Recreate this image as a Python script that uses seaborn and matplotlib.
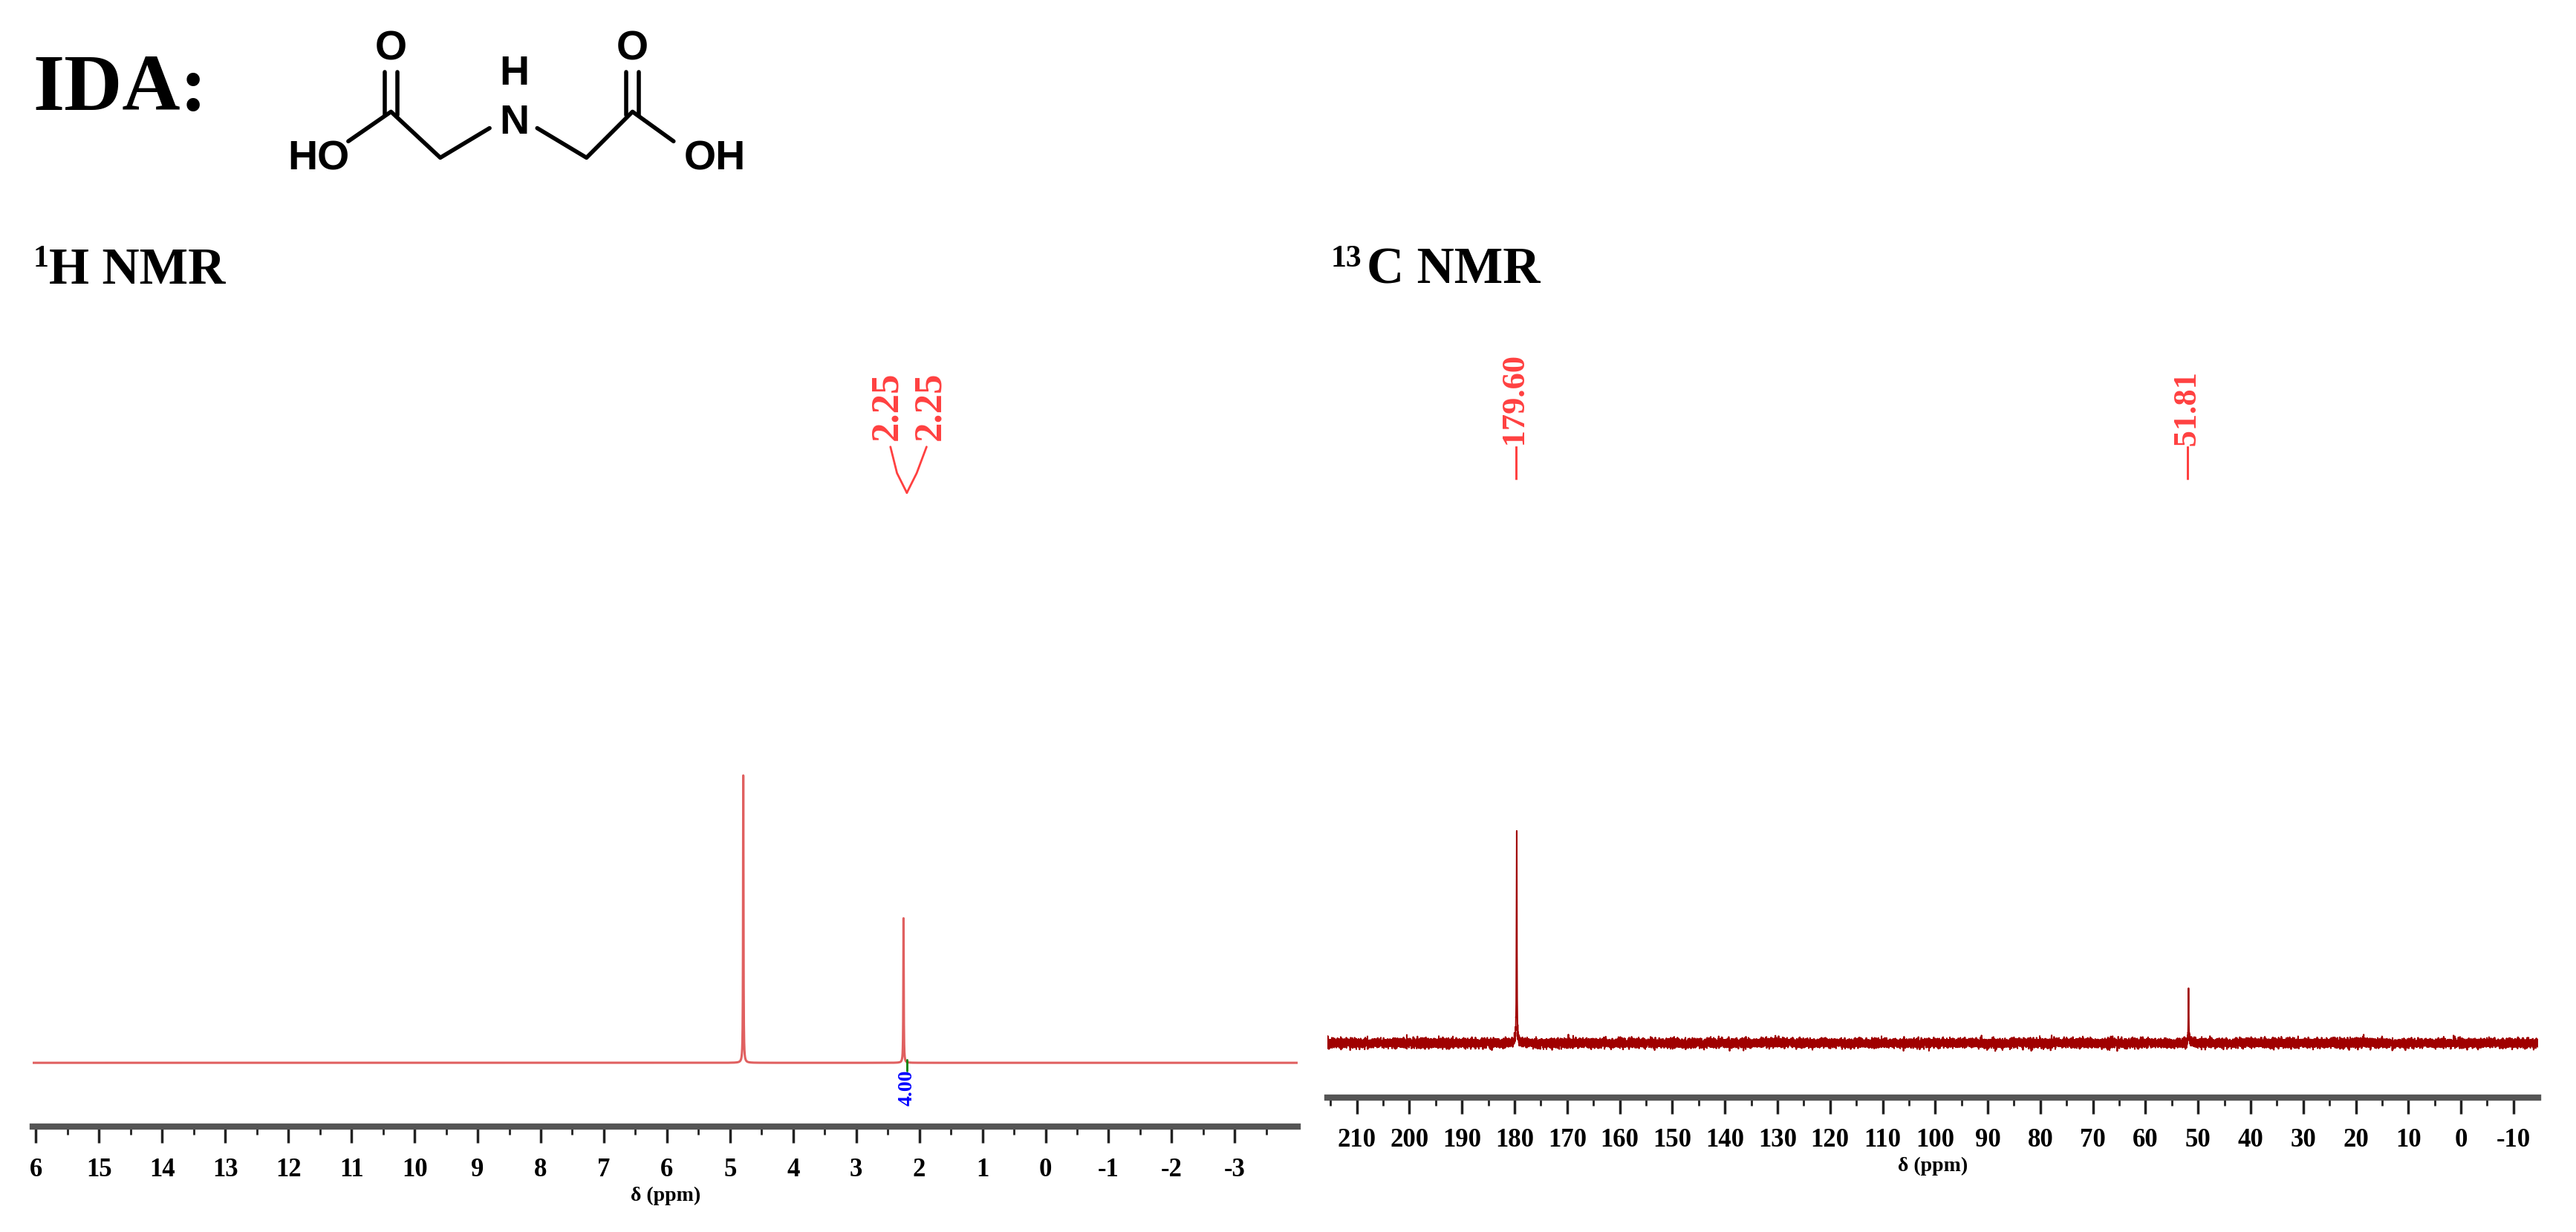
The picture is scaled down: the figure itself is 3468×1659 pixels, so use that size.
import numpy as np
import pandas as pd
import matplotlib
matplotlib.use("Agg")
import matplotlib.pyplot as plt
import seaborn as sns

sns.set_theme(style="white")
plt.rcParams['font.family'] = ['Liberation Serif', 'DejaVu Serif']
plt.rcParams['text.color'] = 'black'
plt.rcParams['xtick.color'] = 'black'
plt.rcParams['axes.labelcolor'] = 'black'

# ---- data ----
h_peaks = [4.79, 2.25]
h_heights = [175, 88]
h_widths = [0.004, 0.004]
h_labels = ["2.25", "2.25"]
h_integral = "4.00"
h_ticks = [16, 15, 14, 13, 12, 11, 10, 9, 8, 7, 6, 5, 4, 3, 2, 1, 0, -1, -2, -3]
h_ticklabels = ["6", "15", "14", "13", "12", "11", "10", "9", "8", "7", "6", "5", "4", "3", "2", "1", "0", "-1", "-2", "-3"]

c_peaks = [179.60, 51.81]
c_heights = [132, 33]
c_widths = [0.05, 0.05]
c_labels = ["179.60", "51.81"]
c_ticks = [210, 200, 190, 180, 170, 160, 150, 140, 130, 120, 110, 100, 90, 80, 70, 60, 50, 40, 30, 20, 10, 0, -10]

W, H = 1568, 750
fig = plt.figure(figsize=(34.68, 16.59), dpi=100)

def box(x0, x1, ytop, ybot):
    return [x0 / W, 1 - ybot / H, (x1 - x0) / W, (ybot - ytop) / H]

red = "#e06060"
dred = "#a00000"

def spectrum(ax, x, y, color, lw):
    sns.lineplot(x=x, y=y, ax=ax, color=color, lw=lw, estimator=None, sort=False)

def style_axis(ax, xlim, ylim, ticks, labels, minor):
    ax.set_xlim(*xlim)
    ax.set_ylim(*ylim)
    for s in ["left", "right", "top"]:
        ax.spines[s].set_visible(False)
    ax.spines["bottom"].set_color("#555555")
    ax.spines["bottom"].set_linewidth(6)
    ax.set_yticks([])
    ax.set_xticks(ticks)
    ax.set_xticklabels(labels, fontsize=25, fontweight="bold")
    ax.set_xticks(minor, minor=True)
    ax.tick_params(axis="x", which="major", direction="out", length=16, width=2.5, color="#222222", pad=14, bottom=True)
    ax.tick_params(axis="x", which="minor", direction="out", length=8, width=2, color="#222222", bottom=True)
    ax.set_xlabel("δ (ppm)", fontsize=20, fontweight="bold", labelpad=4)
    ax.set_ylabel("")

# 1H panel
ax1 = fig.add_axes(box(20, 790, 200, 686))
xh = np.linspace(16.05, -4.0, 60000)
yh = np.zeros_like(xh)
for p, hgt, w in zip(h_peaks, h_heights, h_widths):
    yh += hgt / (1 + ((xh - p) / w) ** 2)
spectrum(ax1, xh, yh, red, 2.2)
style_axis(ax1, (16.05, -4.0), (-39, 447), h_ticks, h_ticklabels, np.arange(15.5, -4, -1))

# 13C panel
ax2 = fig.add_axes(box(808, 1545, 200, 668))
xc = np.linspace(215.6, -14.7, 30000)
rng = np.random.default_rng(3)
yc = rng.normal(0, 1.3, xc.size)
for p, hgt, w in zip(c_peaks, c_heights, c_widths):
    yc += hgt / (1 + ((xc - p) / w) ** 2)
spectrum(ax2, xc, yc, dred, 1.4)
style_axis(ax2, (215.6, -14.7), (-33, 435), c_ticks, [str(t) for t in c_ticks], np.arange(215, -15, -10))

# overlay for annotations
ov = fig.add_axes([0, 0, 1, 1])
ov.set_xlim(0, W)
ov.set_ylim(H, 0)
ov.axis("off")

ov.text(20, 55, "IDA:", fontsize=78, fontweight="bold", va="center", ha="left")
ov.text(30, 165, "H NMR", fontsize=50, fontweight="bold", va="center", ha="left")
ov.text(20, 158, "1", fontsize=30, fontweight="bold", va="center", ha="left")
ov.text(832, 165, "C NMR", fontsize=50, fontweight="bold", va="center", ha="left")
ov.text(810, 158, "13", fontsize=30, fontweight="bold", va="center", ha="left")

# structure
bk = dict(color="black", lw=4, solid_capstyle="round")
ov.plot([212, 238, 268, 298], [86, 68, 96, 78], **bk)
ov.plot([327, 357, 385, 410], [78, 96, 68, 86], **bk)
for xx in (234, 242):
    ov.plot([xx, xx], [70, 44], **bk)
for xx in (381, 389):
    ov.plot([xx, xx], [70, 44], **bk)
sf = dict(fontsize=40, fontweight="bold", family=["Liberation Sans", "DejaVu Sans"], ha="center", va="center")
ov.text(194, 97, "HO", **sf)
ov.text(238, 30, "O", **sf)
ov.text(313, 75, "N", **sf)
ov.text(313, 45, "H", **sf)
ov.text(385, 30, "O", **sf)
ov.text(435, 97, "OH", **sf)

# 1H labels
lf = dict(fontsize=38, fontweight="bold", color="#ff4040", rotation=90, ha="center", va="bottom")
ov.text(540, 268, h_labels[0], **lf)
ov.text(566, 268, h_labels[1], **lf)
ov.plot([542, 546, 552], [272, 288, 300], color="#ff4040", lw=2)
ov.plot([564, 558, 552], [272, 288, 300], color="#ff4040", lw=2)
ov.plot([552, 552], [645, 652], color="green", lw=2)
ov.text(552, 662, h_integral, fontsize=20, fontweight="bold", color="blue", rotation=90, ha="center", va="center")

# 13C labels
for p, lab in zip(c_peaks, c_labels):
    xd = 808 + (215.6 - p) / (215.6 + 14.7) * (1545 - 808)
    ov.text(xd, 292, "—" + lab, fontsize=32, fontweight="bold", color="#ff4040", rotation=90, ha="center", va="bottom")

ov.plot([800, 1560], [757, 757], color="#cccccc", lw=2)

fig.savefig("out.png", dpi=100, facecolor="white")
